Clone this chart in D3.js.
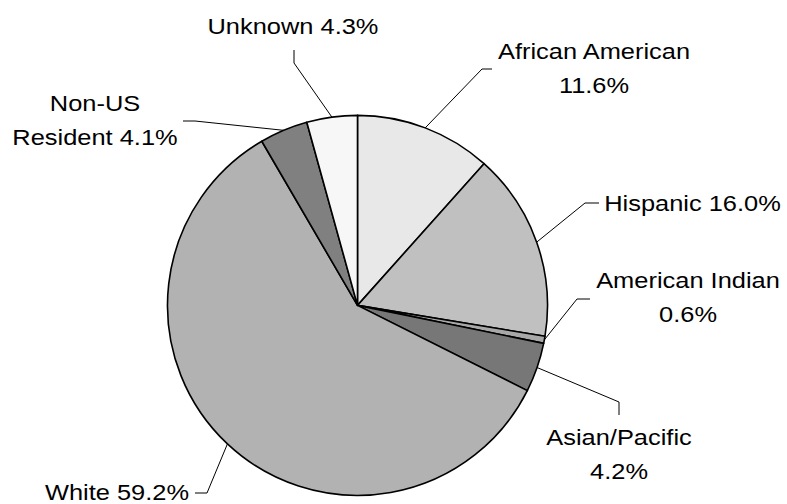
<!DOCTYPE html>
<html>
<head>
<meta charset="utf-8">
<script src="https://cdn.jsdelivr.net/npm/d3@7"></script>
<style>
html,body{margin:0;padding:0;background:#fff;}
svg{display:block;}
text{font-family:"Liberation Sans",Arial,sans-serif;fill:#000;}
</style>
</head>
<body>
<svg id="chart" width="787" height="504"></svg>
<script>
// Data
const categories = ["African American","Hispanic","American Indian","Asian/Pacific","White","Non-US Resident","Unknown"];
const values = [11.6, 16.0, 0.6, 4.2, 59.2, 4.1, 4.3];
const labelLines = [
  ["African American","11.6%"],
  ["Hispanic 16.0%"],
  ["American Indian","0.6%"],
  ["Asian/Pacific","4.2%"],
  ["White 59.2%"],
  ["Non-US","Resident 4.1%"],
  ["Unknown 4.3%"]
];

// Styles
const fills = ["#e8e8e8","#c0c0c0","#a8a8a8","#777777","#b2b2b2","#808080","#f7f7f7"];

// Layout
const W = 787, H = 504;
const cx = 357.5, cy = 305.4, R = 190;
// label anchor (text center x, first baseline y) and leader path bend points
const labelLayout = [
  {x:594, y:59,  lead:[[482,69],[492,69]]},
  {x:692.5, y:211, lead:[[585,203],[599,203]]},
  {x:688, y:288, lead:[[577,299],[590,299]]},
  {x:619, y:445, lead:[[619,402],[619,415]]},
  {x:117, y:500, lead:[[207,493],[195,493]]},
  {x:95,  y:111, lead:[[195,121],[183,121]]},
  {x:293, y:34,  lead:[[294,63],[294,50]]}
];
const lineGap = 34;
const fontSize = 22.5, stretch = 1.13;

const svg = d3.select("#chart");
const g = svg.append("g").attr("transform", `translate(${cx},${cy})`);

const data = categories.map((c,i)=>({name:c, value:values[i], i}));
const pie = d3.pie().value(d=>d.value).sort(null);
const arcs = pie(data);
const arc = d3.arc().innerRadius(0).outerRadius(R);

g.selectAll("path.slice").data(arcs).join("path")
  .attr("class","slice")
  .attr("d", arc)
  .attr("fill", d=>fills[d.data.i])
  .attr("stroke","#000")
  .attr("stroke-width",1.6)
  .attr("stroke-linejoin","round");

// Leader lines
const line = d3.line();
arcs.forEach(a=>{
  const mid = (a.startAngle + a.endAngle)/2;
  const p0 = [cx + R*Math.sin(mid), cy - R*Math.cos(mid)];
  const pts = [p0, ...labelLayout[a.data.i].lead];
  svg.append("path")
    .attr("d", line(pts))
    .attr("fill","none")
    .attr("stroke","#000")
    .attr("stroke-width",1);
});

// Labels
arcs.forEach(a=>{
  const L = labelLayout[a.data.i];
  const lines = labelLines[a.data.i];
  lines.forEach((t,k)=>{
    svg.append("text")
      .attr("transform", `translate(${L.x},${L.y + k*lineGap}) scale(${stretch},1)`)
      .attr("text-anchor","middle")
      .attr("font-size", fontSize)
      .text(t);
  });
});
</script>
</body>
</html>
